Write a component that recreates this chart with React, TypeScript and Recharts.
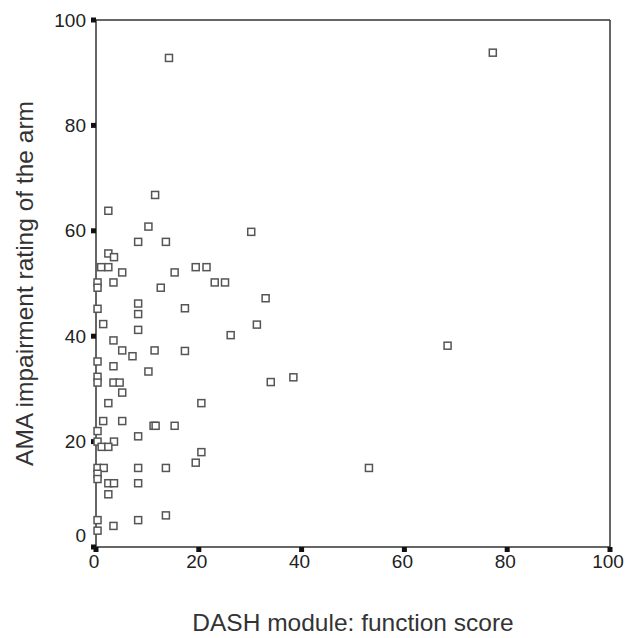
import React from 'react';
import {ReferenceLine, Scatter, ScatterChart, XAxis, YAxis, Label} from 'recharts';

// DASH function score (x) and AMA impairment rating (y)
const dashScore = [
  14.2, 77.2, 11.5, 2.4, 10.2, 30.2, 8.2, 13.6, 2.4, 3.5,
  1.0, 2.4, 19.4, 21.5, 5.1, 15.3, 0.3, 0.3, 3.4, 23.1,
  25.1, 12.6, 33.0, 0.3, 8.2, 8.2, 17.3, 1.4, 31.3, 8.2,
  26.2, 3.4, 68.4, 5.1, 11.4, 17.3, 7.1, 0.3, 3.4, 10.2,
  0.3, 0.3, 3.4, 4.6, 34.0, 38.4, 5.1, 2.4, 20.5, 1.4,
  5.1, 11.2, 11.6, 15.3, 0.3, 8.2, 0.3, 3.5, 1.1, 2.4,
  20.5, 19.4, 0.3, 1.5, 8.2, 13.6, 53.1, 0.3, 0.3, 2.4,
  3.5, 8.2, 2.4, 0.3, 0.3, 3.4, 8.2, 13.6,
];
const amaRating = [
  92.8, 93.8, 66.8, 63.8, 60.8, 59.8, 57.9, 57.9, 55.7, 55.0,
  53.1, 53.1, 53.1, 53.1, 52.1, 52.1, 50.2, 49.2, 50.2, 50.2,
  50.2, 49.2, 47.2, 45.2, 46.2, 44.2, 45.3, 42.3, 42.2, 41.2,
  40.2, 39.2, 38.2, 37.3, 37.3, 37.2, 36.2, 35.2, 34.3, 33.3,
  32.3, 31.2, 31.2, 31.2, 31.3, 32.2, 29.3, 27.3, 27.3, 23.9,
  23.9, 23.0, 23.0, 23.0, 22.0, 21.0, 20.0, 20.0, 19.0, 19.0,
  18.0, 16.0, 15.0, 15.0, 15.0, 15.0, 15.0, 13.9, 12.9, 12.1,
  12.1, 12.1, 10.0, 5.1, 3.1, 4.0, 5.1, 6.0,
];
const axisTicks = [0, 20, 40, 60, 80, 100];

const points = dashScore.map((x, i) => ({x, y: amaRating[i]}));

const SquareMarker = (props: any) => {
  const {cx, cy} = props;
  return <rect x={cx - 3.5} y={cy - 3.5} width={7} height={7} fill="#fff" stroke="#555" strokeWidth={1.5}/>;
};

const YTick = (props: any) => {
  const {x, y, payload} = props;
  // the 0 label is lifted above the x axis
  const dy = payload.value === 0 ? -12 : 0;
  return <text x={x - 3} y={y + dy} dy="0.35em" textAnchor="end" fontSize={19} fill="#222">{payload.value}</text>;
};

const XTick = (props: any) => {
  const {x, y, payload} = props;
  return <text x={x - 2} y={y} dy="0.75em" textAnchor="middle" fontSize={19} fill="#222">{payload.value}</text>;
};

const App = () => {
  return (
    <div style={{position: 'absolute', left: 0, top: 0, background: '#fff', fontFamily: '"Liberation Sans", Arial, sans-serif'}}>
      <ScatterChart width={628} height={638} margin={{top: 20, right: 18, bottom: 0, left: 1}}>
        <XAxis
          type="number"
          dataKey="x"
          domain={[0, 100]}
          ticks={axisTicks}
          height={91}
          stroke="#333"
          strokeWidth={1.5}
          tickSize={5}
          tickLine={{stroke: '#111', strokeWidth: 5}}
          tick={<XTick/>}
        >
          <Label value="DASH module: function score" position="insideBottom" offset={7} fontSize={24.5} fill="#333"/>
        </XAxis>
        <YAxis
          type="number"
          dataKey="y"
          domain={[0, 100]}
          ticks={axisTicks}
          width={95}
          stroke="#333"
          strokeWidth={1.5}
          tickSize={5}
          tickLine={{stroke: '#111', strokeWidth: 5}}
          tick={<YTick/>}
        >
          <Label value="AMA impairment rating of the arm" angle={-90} position="insideLeft" offset={23} fontSize={24.5} fill="#333" style={{textAnchor: 'middle'}}/>
        </YAxis>
        <ReferenceLine y={100} stroke="#333" strokeWidth={1.5}/>
        <ReferenceLine x={100} stroke="#333" strokeWidth={1.5}/>
        <Scatter data={points} shape={<SquareMarker/>} isAnimationActive={false}/>
      </ScatterChart>
    </div>
  );
};

export default App;
